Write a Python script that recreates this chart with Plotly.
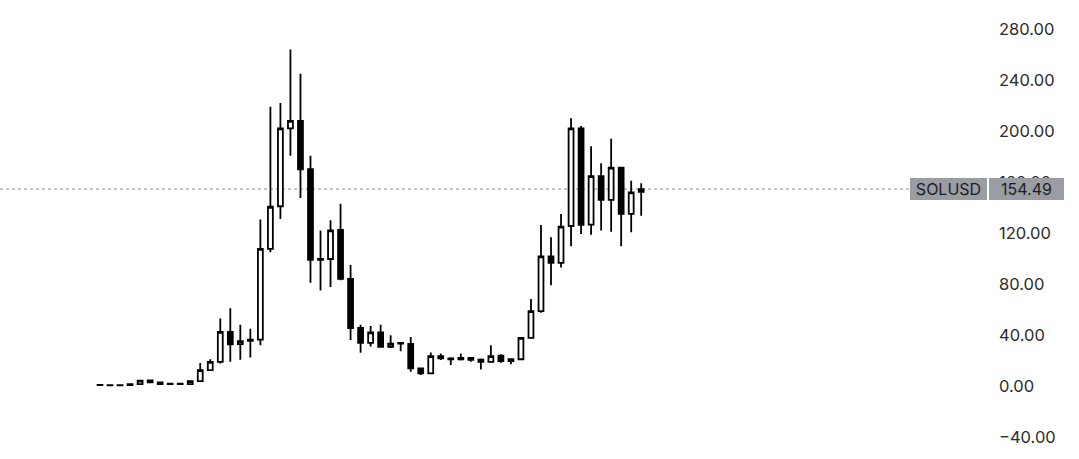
import plotly.graph_objects as go

months = ["2020-04", "2020-05", "2020-06", "2020-07", "2020-08", "2020-09", "2020-10", "2020-11", "2020-12",
          "2021-01", "2021-02", "2021-03", "2021-04", "2021-05", "2021-06", "2021-07", "2021-08", "2021-09",
          "2021-10", "2021-11", "2021-12", "2022-01", "2022-02", "2022-03", "2022-04", "2022-05", "2022-06",
          "2022-07", "2022-08", "2022-09", "2022-10", "2022-11", "2022-12", "2023-01", "2023-02", "2023-03",
          "2023-04", "2023-05", "2023-06", "2023-07", "2023-08", "2023-09", "2023-10", "2023-11", "2023-12",
          "2024-01", "2024-02", "2024-03", "2024-04", "2024-05", "2024-06", "2024-07", "2024-08", "2024-09",
          "2024-10"]

open_ = [0.95, 0.62, 0.6, 0.62, 1.5, 4.3, 2.9, 1.5, 1.9,
         1.5, 3.8, 12.5, 19.0, 42.4, 32.8, 35.5, 36.3, 107.5,
         141.0, 202.0, 208.0, 170.0, 99.0, 99.6, 122.4, 84.0, 45.5,
         33.8, 42.0, 30.8, 33.2, 33.0, 13.8, 9.9, 23.4, 21.6,
         21.0, 22.0, 20.6, 19.0, 23.8, 19.6, 21.0, 37.8, 58.7,
         101.6, 96.6, 125.5, 202.0, 126.6, 164.6, 146.0, 171.3, 135.0,
         152.3]
high = [1.3, 0.8, 0.85, 1.8, 4.9, 4.9, 3.2, 2.4, 2.2,
        4.4, 18.0, 21.0, 52.9, 61.0, 48.0, 45.0, 130.5, 219.0,
        222.0, 264.0, 245.0, 180.5, 122.0, 130.0, 143.0, 95.0, 48.0,
        47.0, 48.0, 39.8, 34.2, 38.5, 14.5, 26.3, 25.5, 22.6,
        25.5, 22.6, 21.6, 32.0, 25.0, 21.5, 38.5, 68.3, 126.3,
        116.6, 135.0, 210.0, 204.0, 188.0, 174.7, 194.0, 172.0, 161.0,
        159.0]
low = [0.5, 0.5, 0.5, 0.6, 1.4, 2.5, 1.2, 1.3, 1.4,
       1.4, 3.6, 11.8, 17.7, 19.0, 20.5, 22.4, 32.0, 105.0,
       131.0, 180.5, 147.4, 81.0, 75.0, 77.6, 83.0, 36.0, 26.0,
       31.0, 30.5, 29.8, 27.3, 11.2, 8.6, 9.5, 20.3, 16.4,
       20.0, 19.0, 13.0, 18.6, 18.2, 17.0, 20.5, 37.0, 57.5,
       79.0, 93.0, 109.6, 119.3, 118.7, 122.0, 121.0, 109.6, 120.5,
       133.6]
close = [0.62, 0.6, 0.62, 1.5, 4.2, 2.9, 1.5, 1.9, 1.5,
         3.8, 12.5, 19.0, 42.4, 32.6, 35.2, 36.3, 107.5, 140.6,
         202.0, 208.0, 170.0, 99.0, 99.6, 122.0, 84.0, 45.5, 33.8,
         42.0, 30.8, 33.3, 33.8, 13.8, 9.9, 23.4, 21.6, 21.0,
         22.0, 20.6, 19.0, 23.4, 19.6, 21.0, 37.8, 58.7, 101.6,
         96.6, 125.0, 202.0, 126.3, 164.6, 146.0, 171.3, 135.0, 151.8,
         154.49]

last_price = 154.49
symbol = "SOLUSD"
tick_vals = [-40, 0, 40, 80, 120, 160, 200, 240, 280]

W, H = 1079, 459
plot_right = 998
FONT = "Inter, Roboto, 'Liberation Sans', sans-serif"

fig = go.Figure()
fig.add_trace(go.Candlestick(
    x=months, open=open_, high=high, low=low, close=close,
    increasing=dict(line=dict(color="#000000", width=1.8), fillcolor="#ffffff"),
    decreasing=dict(line=dict(color="#000000", width=1.8), fillcolor="#000000"),
    whiskerwidth=0,
    showlegend=False,
    hoverinfo="skip",
))

# last price dotted line
fig.add_shape(type="line", xref="paper", yref="y", x0=0, x1=1, y0=last_price, y1=last_price,
              line=dict(color="#8a8a8a", width=1, dash="dot"), layer="below")

def px_to_paper(px):
    return px / plot_right

fig.add_annotation(xref="paper", yref="y", x=px_to_paper(948.5), y=last_price,
                   text=symbol, showarrow=False, bgcolor="#9b9da5", width=77, height=22,
                   borderpad=0, borderwidth=0, font=dict(family=FONT, size=16, color="#1e1e1e"),
                   xanchor="center", yanchor="middle")
fig.add_annotation(xref="paper", yref="y", x=px_to_paper(1026.3), y=last_price,
                   text=f"{last_price:.2f}", showarrow=False, bgcolor="#9b9da5", width=75, height=22,
                   borderpad=0, borderwidth=0, font=dict(family=FONT, size=16, color="#1e1e1e"),
                   xanchor="center", yanchor="middle")

fig.update_layout(
    width=W, height=H,
    margin=dict(l=0, r=W - plot_right, t=0, b=0),
    paper_bgcolor="#ffffff", plot_bgcolor="#ffffff",
    xaxis=dict(type="category", visible=False, range=[-9.98, 89.6],
               rangeslider=dict(visible=False), showgrid=False),
    yaxis=dict(side="right", range=[-57.25, 302.75], tickvals=tick_vals, tickformat=".2f",
               showgrid=False, zeroline=False, showline=False, ticks="",
               tickfont=dict(family=FONT, size=16.5, color="#2b2b2b")),
)

fig.write_html("out.html", config={"displayModeBar": False},
               post_script="document.body.style.margin='0px';document.body.style.overflow='hidden';")
